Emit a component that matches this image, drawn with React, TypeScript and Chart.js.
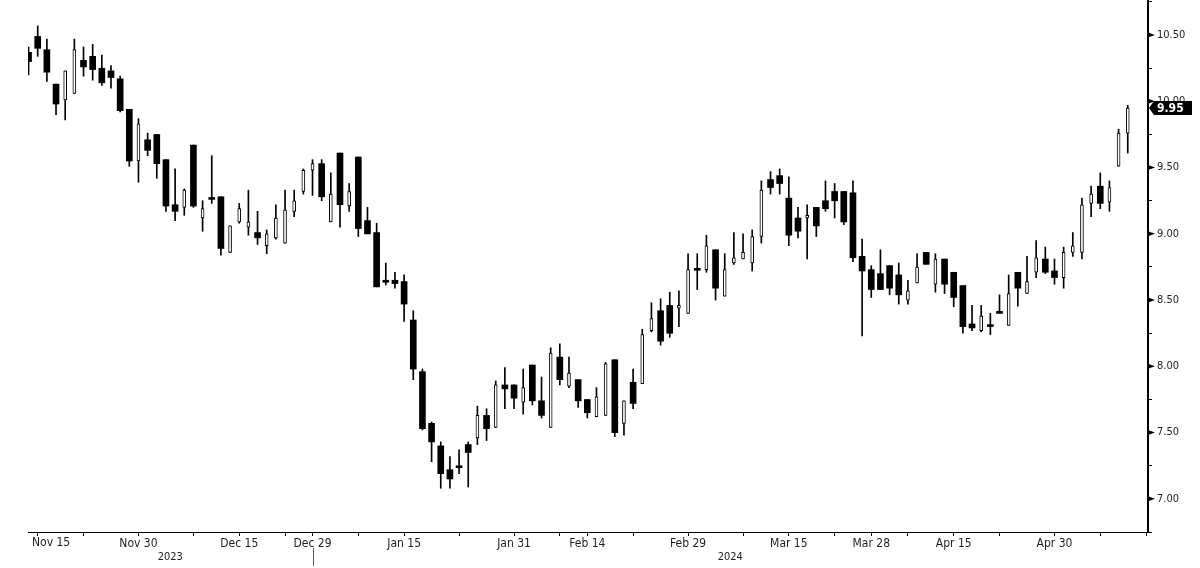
import React, { useEffect, useRef } from 'react';
import { Chart, registerables } from 'chart.js';

Chart.register(...registerables);

// Trading days (Hong Kong calendar)
const dates: string[] = [
  '2023-11-14', '2023-11-15', '2023-11-16', '2023-11-17', '2023-11-20', '2023-11-21', '2023-11-22', '2023-11-23', '2023-11-24', '2023-11-27', '2023-11-28', '2023-11-29', '2023-11-30',
  '2023-12-01', '2023-12-04', '2023-12-05', '2023-12-06', '2023-12-07', '2023-12-08', '2023-12-11', '2023-12-12', '2023-12-13', '2023-12-14', '2023-12-15', '2023-12-18', '2023-12-19', '2023-12-20', '2023-12-21', '2023-12-22', '2023-12-27', '2023-12-28', '2023-12-29',
  '2024-01-02', '2024-01-03', '2024-01-04', '2024-01-05', '2024-01-08', '2024-01-09', '2024-01-10', '2024-01-11', '2024-01-12', '2024-01-15', '2024-01-16', '2024-01-17', '2024-01-18', '2024-01-19', '2024-01-22', '2024-01-23', '2024-01-24', '2024-01-25', '2024-01-26', '2024-01-29', '2024-01-30', '2024-01-31',
  '2024-02-01', '2024-02-02', '2024-02-05', '2024-02-06', '2024-02-07', '2024-02-08', '2024-02-09', '2024-02-14', '2024-02-15', '2024-02-16', '2024-02-19', '2024-02-20', '2024-02-21', '2024-02-22', '2024-02-23', '2024-02-26', '2024-02-27', '2024-02-28', '2024-02-29',
  '2024-03-01', '2024-03-04', '2024-03-05', '2024-03-06', '2024-03-07', '2024-03-08', '2024-03-11', '2024-03-12', '2024-03-13', '2024-03-14', '2024-03-15', '2024-03-18', '2024-03-19', '2024-03-20', '2024-03-21', '2024-03-22', '2024-03-25', '2024-03-26', '2024-03-27', '2024-03-28',
  '2024-04-02', '2024-04-03', '2024-04-05', '2024-04-08', '2024-04-09', '2024-04-10', '2024-04-11', '2024-04-12', '2024-04-15', '2024-04-16', '2024-04-17', '2024-04-18', '2024-04-19', '2024-04-22', '2024-04-23', '2024-04-24', '2024-04-25', '2024-04-26', '2024-04-29', '2024-04-30',
  '2024-05-02', '2024-05-03', '2024-05-06', '2024-05-07', '2024-05-08', '2024-05-09', '2024-05-10', '2024-05-13',
];

const open: number[] = [
  10.37, 10.49, 10.39, 10.13, 10.01, 10.06, 10.31, 10.34, 10.25, 10.23,
  10.17, 9.94, 9.55, 9.71, 9.75, 9.56, 9.22, 9.20, 9.67, 9.12,
  9.27, 9.28, 8.86, 9.09, 9.05, 9.01, 8.91, 8.97, 8.93, 9.17,
  9.32, 9.48, 9.53, 9.09, 9.61, 9.21, 9.58, 9.10, 9.01, 8.645,
  8.65, 8.64, 8.35, 7.96, 7.57, 7.40, 7.22, 7.245, 7.41, 7.46,
  7.63, 7.54, 7.86, 7.86, 7.73, 8.01, 7.74, 7.54, 8.07, 7.85,
  7.90, 7.75, 7.62, 7.63, 8.05, 7.57, 7.88, 7.87, 8.27, 8.42,
  8.46, 8.44, 8.40, 8.735, 8.73, 8.88, 8.53, 8.78, 8.81, 8.78,
  8.98, 9.41, 9.44, 9.27, 9.12, 9.12, 9.20, 9.25, 9.32, 9.32,
  9.31, 8.83, 8.73, 8.70, 8.76, 8.69, 8.50, 8.63, 8.86, 8.62,
  8.81, 8.71, 8.61, 8.32, 8.27, 8.315, 8.41, 8.31, 8.71, 8.55,
  8.71, 8.81, 8.72, 8.67, 8.86, 8.86, 9.23, 9.36, 9.24, 9.51,
  9.76,
];
const high: number[] = [
  10.41, 10.57, 10.47, 10.13, 10.23, 10.47, 10.41, 10.43, 10.35, 10.27,
  10.19, 9.94, 9.87, 9.76, 9.75, 9.56, 9.49, 9.34, 9.67, 9.25,
  9.59, 9.28, 9.06, 9.23, 9.33, 9.17, 9.03, 9.22, 9.33, 9.33,
  9.49, 9.56, 9.56, 9.46, 9.61, 9.38, 9.58, 9.20, 9.08, 8.78,
  8.71, 8.69, 8.42, 7.98, 7.58, 7.43, 7.32, 7.37, 7.43, 7.70,
  7.68, 7.89, 7.99, 7.86, 7.98, 8.01, 7.92, 8.14, 8.17, 8.07,
  7.90, 7.75, 7.84, 8.03, 8.05, 7.74, 7.98, 8.28, 8.48, 8.51,
  8.56, 8.57, 8.85, 8.85, 8.99, 8.88, 8.85, 9.01, 9.00, 9.03,
  9.40, 9.47, 9.49, 9.43, 9.20, 9.22, 9.20, 9.40, 9.38, 9.32,
  9.40, 8.96, 8.76, 8.88, 8.76, 8.78, 8.65, 8.85, 8.86, 8.85,
  8.81, 8.71, 8.61, 8.46, 8.46, 8.40, 8.54, 8.69, 8.71, 8.83,
  8.95, 8.90, 8.81, 8.90, 9.01, 9.27, 9.36, 9.46, 9.40, 9.79,
  9.97,
];
const low: number[] = [
  10.20, 10.34, 10.15, 9.90, 9.86, 10.06, 10.19, 10.16, 10.12, 10.10,
  9.92, 9.51, 9.39, 9.59, 9.42, 9.17, 9.10, 9.14, 9.20, 9.02,
  9.23, 8.84, 8.86, 9.08, 8.99, 8.92, 8.85, 8.96, 8.93, 9.13,
  9.30, 9.29, 9.25, 9.09, 9.05, 9.17, 8.98, 9.00, 8.60, 8.615,
  8.59, 8.34, 7.90, 7.52, 7.28, 7.08, 7.08, 7.19, 7.09, 7.41,
  7.44, 7.54, 7.68, 7.68, 7.64, 7.71, 7.61, 7.54, 7.86, 7.84,
  7.69, 7.61, 7.62, 7.63, 7.47, 7.48, 7.68, 7.87, 8.26, 8.16,
  8.22, 8.30, 8.40, 8.58, 8.71, 8.50, 8.53, 8.77, 8.81, 8.72,
  8.93, 9.30, 9.30, 8.91, 8.97, 8.81, 8.98, 9.17, 9.12, 9.07,
  8.79, 8.23, 8.52, 8.58, 8.54, 8.47, 8.47, 8.63, 8.77, 8.56,
  8.55, 8.45, 8.25, 8.27, 8.26, 8.24, 8.40, 8.31, 8.455, 8.55,
  8.67, 8.70, 8.62, 8.59, 8.83, 8.81, 9.13, 9.19, 9.17, 9.51,
  9.61,
];
const close: number[] = [
  10.30, 10.40, 10.22, 9.98, 10.23, 10.39, 10.26, 10.24, 10.14, 10.18,
  9.93, 9.55, 9.83, 9.63, 9.53, 9.21, 9.17, 9.33, 9.21, 9.19,
  9.26, 8.89, 9.06, 9.19, 9.09, 8.97, 9.00, 9.12, 9.18, 9.25,
  9.48, 9.53, 9.28, 9.30, 9.22, 9.32, 9.04, 9.00, 8.60, 8.635,
  8.625, 8.47, 7.98, 7.53, 7.43, 7.19, 7.15, 7.235, 7.35, 7.63,
  7.53, 7.86, 7.83, 7.76, 7.84, 7.74, 7.63, 8.10, 7.90, 7.95,
  7.74, 7.65, 7.77, 8.02, 7.50, 7.74, 7.72, 8.24, 8.36, 8.19,
  8.25, 8.46, 8.73, 8.725, 8.91, 8.59, 8.73, 8.82, 8.86, 8.98,
  9.33, 9.35, 9.38, 8.99, 9.02, 9.14, 9.06, 9.19, 9.25, 9.09,
  8.82, 8.72, 8.58, 8.58, 8.59, 8.54, 8.57, 8.75, 8.77, 8.81,
  8.62, 8.52, 8.30, 8.29, 8.38, 8.30, 8.40, 8.55, 8.59, 8.64,
  8.82, 8.71, 8.67, 8.86, 8.91, 9.22, 9.30, 9.23, 9.35, 9.76,
  9.95,
];

const labeledTicks: number[] = [1, 12, 23, 31, 41, 53, 61, 72, 83, 92, 101, 112];
const minorTicks: number[] = [6, 18, 28, 36, 47, 58, 66, 78, 88, 96, 106, 117, 122];
const yearLabels: string[] = ['2023', '2024'];
const yearBreakIndex = 31;
const yTickValues: number[] = [6.75, 7.0, 7.25, 7.5, 7.75, 8.0, 8.25, 8.5, 8.75, 9.0, 9.25, 9.5, 9.75, 10.0, 10.25, 10.5, 10.75];
const yLabelValues: number[] = [7.0, 7.5, 8.0, 8.5, 9.0, 9.5, 10.0, 10.5];
const lastPrice = 9.95;

const MONTHS = ['Jan', 'Feb', 'Mar', 'Apr', 'May', 'Jun', 'Jul', 'Aug', 'Sep', 'Oct', 'Nov', 'Dec'];
const FONT = "'DejaVu Sans Condensed', 'DejaVu Sans', sans-serif";
const TEXT = '#1e1e1e';

function fmtDate(s: string): string {
  const parts = s.split('-');
  return MONTHS[parseInt(parts[1], 10) - 1] + ' ' + parseInt(parts[2], 10);
}

const decorPlugin = {
  id: 'decor',
  afterDraw(chart: any) {
    const { ctx, chartArea, scales } = chart;
    const x = scales.x;
    const y = scales.y;
    ctx.save();
    // major y ticks as small arrowheads
    ctx.fillStyle = '#000';
    yLabelValues.forEach((v) => {
      const py = y.getPixelForValue(v);
      ctx.beginPath();
      ctx.moveTo(chartArea.right, py - 2.5);
      ctx.lineTo(chartArea.right + 7, py);
      ctx.lineTo(chartArea.right, py + 2.5);
      ctx.closePath();
      ctx.fill();
    });
    // first date label, kept inside the plot's left edge
    ctx.fillStyle = TEXT;
    ctx.font = '12px ' + FONT;
    ctx.textBaseline = 'middle';
    const firstPx = x.getPixelForValue(labeledTicks[0]);
    ctx.textAlign = 'left';
    ctx.fillText(fmtDate(dates[labeledTicks[0]]), Math.max(chartArea.left + 4, firstPx - 20), 543);
    // year labels and separator
    ctx.font = '11px ' + FONT;
    const bx = x.getPixelForValue(yearBreakIndex);
    ctx.textAlign = 'center';
    ctx.fillText(yearLabels[0], (chartArea.left + bx) / 2, 557);
    ctx.fillText(yearLabels[1], (bx + chartArea.right) / 2, 557);
    ctx.strokeStyle = '#555';
    ctx.lineWidth = 1;
    ctx.beginPath();
    ctx.moveTo(Math.round(bx) + 0.5, 548);
    ctx.lineTo(Math.round(bx) + 0.5, 566);
    ctx.stroke();
    // last price tag
    const py = y.getPixelForValue(lastPrice);
    const x0 = chartArea.right + 1;
    ctx.fillStyle = '#000';
    ctx.beginPath();
    ctx.moveTo(x0, py);
    ctx.lineTo(x0 + 5, py - 7);
    ctx.lineTo(1192, py - 7);
    ctx.lineTo(1192, py + 7);
    ctx.lineTo(x0 + 5, py + 7);
    ctx.closePath();
    ctx.fill();
    ctx.fillStyle = '#fff';
    ctx.font = 'bold 12px ' + FONT;
    ctx.textAlign = 'left';
    ctx.textBaseline = 'middle';
    ctx.fillText(lastPrice.toFixed(2), x0 + 8, py + 0.5);
    ctx.restore();
  },
};

export default function App() {
  const ref = useRef<HTMLCanvasElement | null>(null);

  useEffect(() => {
    if (!ref.current) return;
    Chart.defaults.font.family = FONT;
    const idx = dates.map((_, i) => i);
    const wicks = idx.map((i) => ({ x: i, y: [low[i], high[i]] }));
    const upBodies = idx.filter((i) => close[i] >= open[i]).map((i) => ({ x: i, y: [open[i], close[i]] }));
    const downBodies = idx.filter((i) => close[i] < open[i]).map((i) => ({ x: i, y: [close[i], open[i]] }));

    const chart = new Chart(ref.current, {
      type: 'bar',
      data: {
        datasets: [
          {
            label: 'down',
            data: downBodies as any,
            backgroundColor: '#000',
            borderWidth: 0,
            barThickness: 6,
            minBarLength: 2,
            grouped: false,
            order: 1,
          },
          {
            label: 'up',
            data: upBodies as any,
            backgroundColor: '#fff',
            borderColor: '#000',
            borderWidth: 1,
            borderSkipped: false,
            barThickness: 3,
            minBarLength: 2,
            grouped: false,
            order: 2,
          },
          {
            label: 'range',
            data: wicks as any,
            backgroundColor: '#000',
            borderWidth: 0,
            barThickness: 1,
            grouped: false,
            order: 3,
          },
        ],
      },
      options: {
        animation: false,
        responsive: false,
        devicePixelRatio: 1,
        layout: { padding: { left: 28, top: 0, right: 0, bottom: 0 } },
        plugins: { legend: { display: false }, tooltip: { enabled: false } },
        scales: {
          x: {
            type: 'linear',
            min: -0.06,
            max: 122.21,
            bounds: 'data',
            offset: false,
            afterBuildTicks: (s: any) => {
              s.ticks = [...labeledTicks, ...minorTicks].sort((a, b) => a - b).map((v) => ({ value: v }));
            },
            afterFit: (s: any) => {
              s.height = 36;
              s.paddingLeft = 0;
              s.paddingRight = 0;
            },
            ticks: {
              autoSkip: false,
              maxRotation: 0,
              minRotation: 0,
              padding: 1,
              color: TEXT,
              font: { size: 12, family: FONT },
              callback: (v: any) => (labeledTicks.includes(v) && v !== labeledTicks[0] ? fmtDate(dates[v]) : ''),
            },
            grid: { display: true, drawOnChartArea: false, drawTicks: true, tickLength: 4, color: '#000', offset: false },
            border: { display: true, color: '#000', width: 1 },
          },
          y: {
            type: 'linear',
            position: 'right',
            min: 6.75,
            max: 10.765,
            bounds: 'data',
            afterBuildTicks: (s: any) => {
              s.ticks = yTickValues.map((v) => ({ value: v }));
            },
            afterFit: (s: any) => {
              s.width = 52;
              s.paddingTop = 0;
              s.paddingBottom = 0;
            },
            ticks: {
              autoSkip: false,
              padding: 5,
              color: TEXT,
              font: { size: 11, family: FONT },
              callback: (v: any) => (yLabelValues.some((l) => Math.abs(l - v) < 1e-6) ? Number(v).toFixed(2) : ''),
            },
            grid: { display: true, drawOnChartArea: false, drawTicks: true, tickLength: 4, color: '#000' },
            border: { display: true, color: '#000', width: 2 },
          },
        },
      },
      plugins: [decorPlugin],
    });
    return () => chart.destroy();
  }, []);

  return (
    <div style={{ position: 'absolute', left: 0, top: 0, width: 1200, height: 568, background: '#fff' }}>
      <canvas ref={ref} width={1200} height={568} style={{ display: 'block' }} />
    </div>
  );
}
